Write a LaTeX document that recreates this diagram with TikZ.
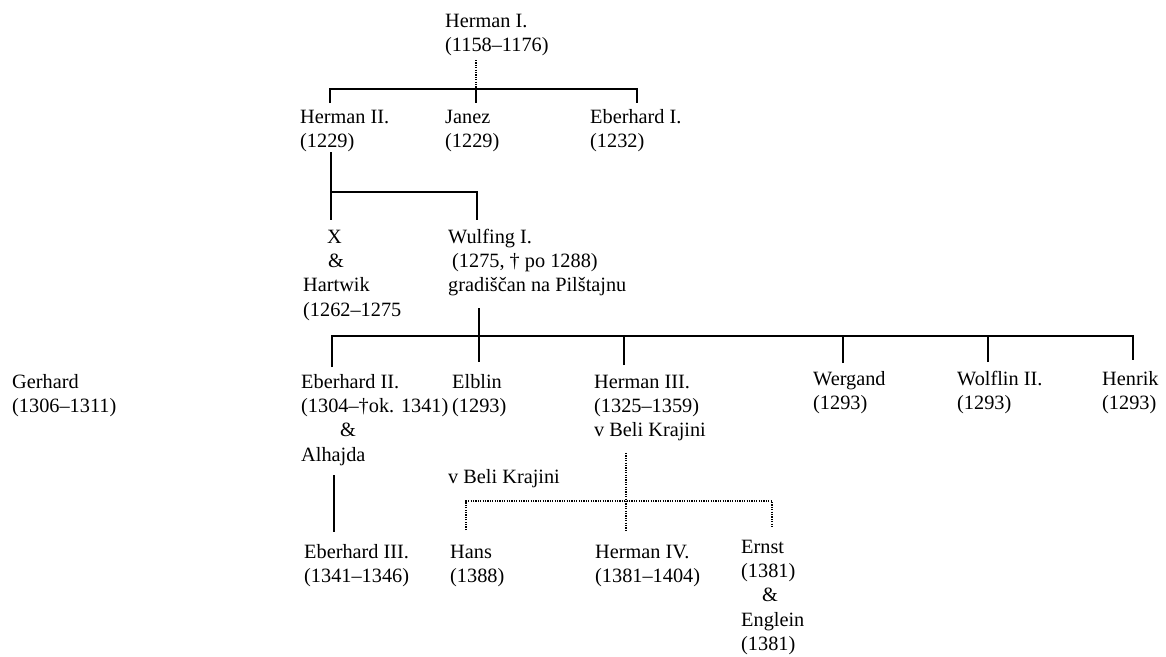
\documentclass[tikz,border=0pt]{standalone}
\usepackage{fontspec}
\setmainfont{Liberation Serif}
% base west = baseline of the last line of a node
\tikzset{
  person/.style={inner sep=0pt, anchor=base west, align=left,
    font=\fontsize{20.3}{24.4}\selectfont},
  kin/.style={line width=1.5pt},
  kindot/.style={line width=1.4pt, dash pattern=on 1.2pt off 1.2pt},
}
\begin{document}
\begin{tikzpicture}[x=1pt, y=-1pt]
    \useasboundingbox (0,0) rectangle (1166,656);
    % osebe
    \node[person] (hermanI) at (445,51.4) {Herman I.\\(1158–1176)};
    \node[person] (hermanII) at (300,147.4) {Herman II.\\(1229)};
    \node[person] (janez) at (445,147.4) {Janez\\(1229)};
    \node[person] (eberhardI) at (590,147.4) {Eberhard I.\\(1232)};
    \node[person] (hartwik) at (303,316.2) {\hspace*{24pt}X\\\hspace*{25pt}\&\\Hartwik\\(1262–1275};
    \node[person] (wulfingI) at (448,291.8) {Wulfing I.\\\hspace*{4pt}(1275, † po 1288)\\gradiščan na Pilštajnu};
    \node[person] (gerhard) at (12,412.4) {Gerhard\\(1306–1311)};
    \node[person] (eberhardII) at (301,461.2) {Eberhard II.\\(1304–†ok. 1341)\\\hspace*{39pt}\&\\Alhajda};
    \node[person] (elblin) at (452,412.4) {Elblin\\(1293)};
    \node[person] (hermanIII) at (594,436.8) {Herman III.\\(1325–1359)\\v Beli Krajini};
    \node[person] (wergand) at (813,409.4) {Wergand\\(1293)};
    \node[person] (wolflinII) at (957,409.4) {Wolflin II.\\(1293)};
    \node[person] (henrik) at (1102,409.4) {Henrik\\(1293)};
    \node[person] (belikraj) at (448,483) {v Beli Krajini};
    \node[person] (eberhardIII) at (304,582.4) {Eberhard III.\\(1341–1346)};
    \node[person] (hans) at (450,582.4) {Hans\\(1388)};
    \node[person] (hermanIV) at (595,582.4) {Herman IV.\\(1381–1404)};
    \node[person] (ernst) at (741,650.6) {Ernst\\(1381)\\\hspace*{21pt}\&\\Englein\\(1381)};

    % Herman I.
    \coordinate (hIa) at (476,60);
    \coordinate (hIb) at (476,89);
    \coordinate (hIIa) at (330,103);
    \coordinate (jza) at (476,103);
    \coordinate (ebIa) at (637,103);
    \draw[kindot] (hIa) -- (hIb);
    \draw[kin] (hIIa) |- (hIb) -| (ebIa);
    \draw[kin] (hIb) -- (jza);

    % Herman II.
    \coordinate (hIIb) at (331,152);
    \coordinate (hIIc) at (331,192);
    \coordinate (xh) at (331,220);
    \coordinate (wfa) at (477,220);
    \draw[kin] (hIIb) -- (xh);
    \draw[kin] (hIIc) -| (wfa);

    % Wulfing I.
    \coordinate (wfb) at (479,308);
    \coordinate (bus) at (479,336);
    \coordinate (elb) at (479,362);
    \coordinate (ebIIa) at (332,367);
    \coordinate (hIIIa) at (624,365);
    \coordinate (wga) at (843,363);
    \coordinate (wlfa) at (988,362);
    \coordinate (hka) at (1133,360);
    \draw[kin] (wfb) -- (elb);
    \draw[kin] (ebIIa) |- (bus) -| (hka);
    \foreach \c in {hIIIa,wga,wlfa}
        \draw[kin] (\c) -- (\c |- bus);

    % Eberhard II.
    \coordinate (ebIIb) at (334,475);
    \coordinate (ebIIIa) at (334,532);
    \draw[kin] (ebIIb) -- (ebIIIa);

    % Herman III. (v Beli Krajini)
    \coordinate (hIIIb) at (626,453);
    \coordinate (dbus) at (626,501);
    \coordinate (hIVa) at (626,530);
    \coordinate (hsa) at (466,530);
    \coordinate (era) at (772,528);
    \draw[kindot] (hIIIb) -- (hIVa);
    \draw[kindot] (hsa) |- (dbus) -| (era);
\end{tikzpicture}
\end{document}
